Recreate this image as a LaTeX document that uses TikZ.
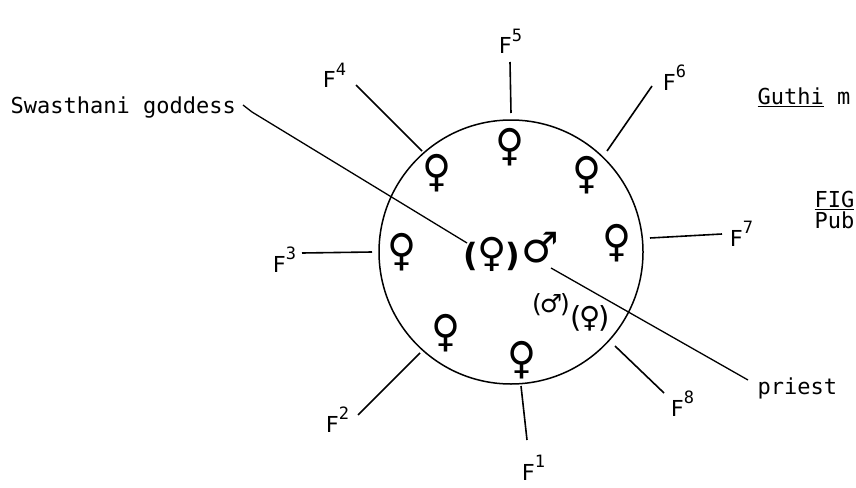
\documentclass[tikz,border=0pt]{standalone}
\usepackage{fontspec}
\setmonofont{DejaVu Sans Mono}
\newfontfamily\symfont{DejaVu Sans}
\begin{document}
\begin{tikzpicture}[x=1pt,y=-1pt,line width=1.4pt,
  lbl/.style={inner sep=0pt,font=\fontsize{22}{24}\selectfont\ttfamily},
  fs/.style={inner sep=0pt,font=\fontsize{44}{46}\selectfont\symfont,xscale=0.9},
  rad/.style={line width=1.6pt}]
\useasboundingbox (0,0) rectangle (856,487);
\newcommand{\Flab}[1]{F\raisebox{0.55em}{\fontsize{17}{17}\selectfont #1}}
% circle
\node[circle,draw,line width=1.5pt,minimum size=264pt,inner sep=0pt] (ring) at (511,252) {};
% females around
\node[fs] (v5) at (510,147) {♀};
\node[fs] (v4) at (437,173) {♀};
\node[fs] (v6) at (587,175) {♀};
\node[fs] (v3) at (402,252) {♀};
\node[fs] (v7) at (617,243) {♀};
\node[fs] (v2) at (446,333) {♀};
\node[fs] (v1) at (522,360) {♀};
% center
\node[inner sep=0pt,font=\symfont\bfseries] (cf) at (492,254)
  {\fontsize{32}{34}\selectfont(\kern-1pt{\fontsize{40}{40}\selectfont ♀}\kern-1pt)};
\node[inner sep=0pt,font=\fontsize{42}{44}\selectfont\symfont] (cm) at (540,248) {♂};
\node[inner sep=0pt,font=\fontsize{25}{27}\selectfont\symfont] (pm) at (551,305) {(\kern-2pt♂\kern-2pt)};
\node[inner sep=0pt,font=\fontsize{29}{31}\selectfont\symfont] (pf) at (590,318) {(\kern-2pt♀\kern-2pt)};
% labels
\node[lbl,anchor=base west] (sw) at (10,113) {Swasthani goddess};
\node[lbl,anchor=base west] (pr) at (757,394) {priest};
\node[lbl,anchor=base west] (gu) at (757,104) {\underline{Guthi} m};
\node[lbl,anchor=base west,align=left] (fig) at (814,228) {\underline{FIG}\\[-3pt]Pub};
\node[lbl,anchor=base west] (l5) at (498,54) {\Flab{5}};
\node[lbl,anchor=base west] (l4) at (322,88) {\Flab{4}};
\node[lbl,anchor=base west] (l6) at (662,90) {\Flab{6}};
\node[lbl,anchor=base west] (l7) at (729,246) {\Flab{7}};
\node[lbl,anchor=base west] (l3) at (272,272) {\Flab{3}};
\node[lbl,anchor=base west] (l2) at (325,432) {\Flab{2}};
\node[lbl,anchor=base west] (l1) at (521,480) {\Flab{1}};
\node[lbl,anchor=base west] (l8) at (670,416) {\Flab{8}};
% radial line ends
\coordinate (o5) at (510,62);  \coordinate (i5) at (511,113);
\coordinate (o4) at (356,85);  \coordinate (i4) at (422,151);
\coordinate (o6) at (652,86);  \coordinate (i6) at (607,151);
\coordinate (o7) at (722,234); \coordinate (i7) at (650,238);
\coordinate (o3) at (302,253); \coordinate (i3) at (372,252);
\coordinate (o2) at (358,415); \coordinate (i2) at (420,353);
\coordinate (o1) at (527,440); \coordinate (i1) at (521,386);
\coordinate (o8) at (664,393); \coordinate (i8) at (615,346);
\foreach \k in {1,...,8} {\draw[rad] (o\k) -- (i\k);}
% pointer lines
\coordinate (g0) at (243,105);
\coordinate (gk) at (252,112);
\coordinate (g1) at (467,243);
\draw[line width=1.3pt] (g0) -- (gk) -- (g1);
\coordinate (p0) at (551,268);
\coordinate (p1) at (748,380);
\draw[line width=1.3pt] (p0) -- (p1);
\end{tikzpicture}
\end{document}
